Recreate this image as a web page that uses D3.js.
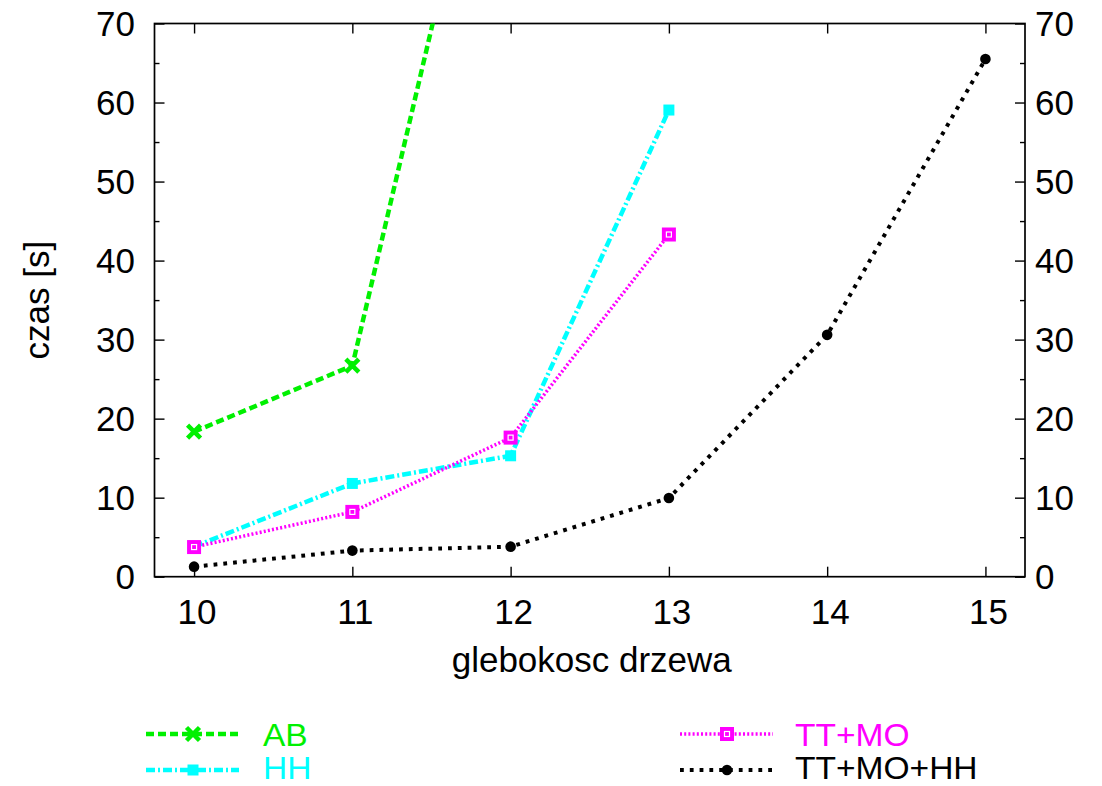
<!DOCTYPE html>
<html><head><meta charset="utf-8">
<script src="https://cdn.jsdelivr.net/npm/d3@7"></script>
<style>body{margin:0;background:#fff}svg text{font-family:"Liberation Sans",Arial,sans-serif}</style>
</head><body><svg id="c" width="1102" height="786"></svg>
<script>
const depths = [10, 11, 12, 13, 14, 15];
const abTimes = [18.35, 26.7, 112];
const hhTimes = [3.8, 11.8, 15.3, 59.05];
const ttmoTimes = [3.75, 8.2, 17.6, 43.3];
const ttmohhTimes = [1.27, 3.3, 3.8, 9.95, 30.6, 65.5];
const yTicks = [0, 10, 20, 30, 40, 50, 60, 70];
const yMinorTicks = [5, 15, 25, 35, 45, 55, 65];
const seriesNames = ["AB", "HH", "TT+MO", "TT+MO+HH"];
const seriesColors = ["#00f000", "#00ffff", "#ff00ff", "#000000"];

const svg = d3.select("#c");
const L = 154.5, R = 1025, T = 23.5, B = 576.7;
const x = d3.scaleLinear().domain([9.75, 15.25]).range([L, R]);
const y = d3.scaleLinear().domain([0, 70]).range([B, T]);
const FS = 35;
const LFS = 30.5;

svg.append("defs").append("clipPath").attr("id","clip")
  .append("rect").attr("x",L).attr("y",T).attr("width",R-L).attr("height",B-T);

const ax = svg.append("g");
ax.append("g").attr("transform",`translate(0,${B})`)
  .call(d3.axisBottom(x).tickValues(depths).tickSize(-10).tickFormat(""));
ax.append("g").attr("transform",`translate(0,${T})`)
  .call(d3.axisTop(x).tickValues(depths).tickSize(-10).tickFormat(""));
ax.append("g").attr("transform",`translate(${L},0)`)
  .call(d3.axisLeft(y).tickValues(yTicks).tickSize(-10).tickFormat(""));
ax.append("g").attr("transform",`translate(${L},0)`)
  .call(d3.axisLeft(y).tickValues(yMinorTicks).tickSize(-5).tickFormat(""));
ax.append("g").attr("transform",`translate(${R},0)`)
  .call(d3.axisRight(y).tickValues(yTicks).tickSize(-10).tickFormat(""));
ax.append("g").attr("transform",`translate(${R},0)`)
  .call(d3.axisRight(y).tickValues(yMinorTicks).tickSize(-5).tickFormat(""));
ax.selectAll(".domain").remove();
ax.selectAll("line").attr("stroke","#000").attr("stroke-width",1.4);
svg.append("rect").attr("x",L).attr("y",T).attr("width",R-L).attr("height",B-T)
  .attr("fill","none").attr("stroke","#000").attr("stroke-width",1.7);

svg.append("g").selectAll("text").data(depths).join("text")
  .attr("x",d=>x(d)+3).attr("y",624).attr("text-anchor","middle")
  .attr("font-size",FS).text(d=>d);
svg.append("g").selectAll("text").data(yTicks).join("text")
  .attr("x",135).attr("y",d=>y(d)+12).attr("text-anchor","end")
  .attr("font-size",FS).text(d=>d);
svg.append("g").selectAll("text").data(yTicks).join("text")
  .attr("x",1035).attr("y",d=>y(d)+12).attr("text-anchor","start")
  .attr("font-size",FS).text(d=>d);

svg.append("text").attr("x",(L+R)/2+2).attr("y",672).attr("text-anchor","middle")
  .attr("font-size",FS).text("glebokosc drzewa");
svg.append("text").attr("transform",`translate(49,${(T+B)/2}) rotate(-90)`)
  .attr("text-anchor","middle").attr("font-size",FS).text("czas [s]");

const allData = [abTimes, hhTimes, ttmoTimes, ttmohhTimes];
const dashes = ["8,4", "9,3,2,3", "2,2.2", "3.8,6"];
const widths = [4.5, 4.5, 3.5, 4];

function marker(g, i, cx, cy) {
  const c = seriesColors[i];
  if (i === 0) {
    const s = 6.5;
    g.append("path").attr("d",`M${cx-s},${cy-s}L${cx+s},${cy+s}M${cx-s},${cy+s}L${cx+s},${cy-s}`)
      .attr("stroke",c).attr("stroke-width",4.5).attr("fill","none");
  } else if (i === 1) {
    g.append("rect").attr("x",cx-5.5).attr("y",cy-5.5).attr("width",11).attr("height",11).attr("fill",c);
  } else if (i === 2) {
    g.append("rect").attr("x",cx-7).attr("y",cy-7).attr("width",14).attr("height",14).attr("fill",c);
    g.append("rect").attr("x",cx-2.5).attr("y",cy-2.5).attr("width",5).attr("height",5)
      .attr("fill","none").attr("stroke","#fff").attr("stroke-width",1.2);
  } else {
    g.append("circle").attr("cx",cx).attr("cy",cy).attr("r",5.3).attr("fill",c);
  }
}

const line = d3.line().x(d=>x(d[0])).y(d=>y(d[1]));
allData.forEach((vals, i) => {
  const pts = vals.map((v, k) => [depths[k], v]);
  const g = svg.append("g");
  g.append("path").attr("d", line(pts)).attr("clip-path","url(#clip)")
    .attr("fill","none").attr("stroke",seriesColors[i]).attr("stroke-width",widths[i])
    .attr("stroke-dasharray",dashes[i]);
  pts.filter(p => p[1] <= 70).forEach(p => marker(g, i, x(p[0]), y(p[1])));
});

const legPos = [[146,239,193,263,734,745.5],[146,239,193,263,770,779],[680,773,727,795,734,745.5],[680,773,727,795,770,779]];
seriesNames.forEach((n, i) => {
  const [x1,x2,mx,tx,ly,by] = legPos[i];
  const g = svg.append("g");
  g.append("line").attr("x1",x1).attr("x2",x2).attr("y1",ly).attr("y2",ly)
    .attr("stroke",seriesColors[i]).attr("stroke-width",widths[i]).attr("stroke-dasharray",dashes[i]);
  marker(g, i, mx, ly);
  g.append("text").attr("transform",`translate(${tx},${by}) scale(1.1,1)`).attr("font-size",LFS)
    .attr("fill",seriesColors[i]).text(n);
});
</script></body></html>
